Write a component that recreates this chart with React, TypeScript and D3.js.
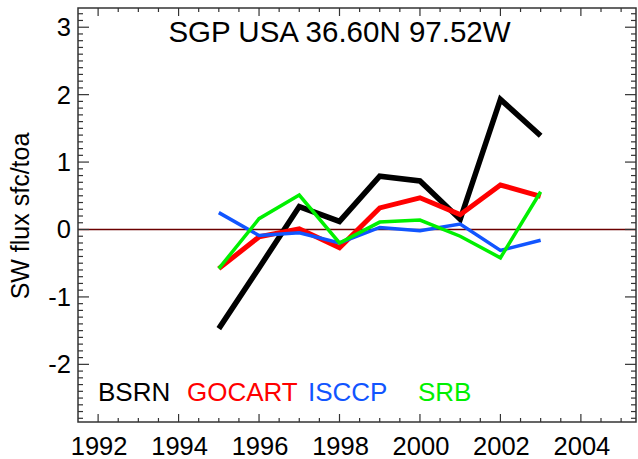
import React from "react";
import * as d3 from "d3";

const years = [1995, 1996, 1997, 1998, 1999, 2000, 2001, 2002, 2003];
const bsrn = [-1.47, -0.57, 0.34, 0.12, 0.79, 0.72, 0.15, 1.93, 1.39];
const gocart = [-0.58, -0.11, 0.01, -0.27, 0.32, 0.47, 0.22, 0.66, 0.49];
const isccp = [0.25, -0.09, -0.05, -0.2, 0.03, -0.02, 0.08, -0.31, -0.16];
const srb = [-0.58, 0.16, 0.51, -0.2, 0.11, 0.14, -0.1, -0.42, 0.56];
const xTickYears = [1992, 1994, 1996, 1998, 2000, 2002, 2004];
const yTickValues = [-2, -1, 0, 1, 2, 3];
const seriesNames = ["BSRN", "GOCART", "ISCCP", "SRB"];
const seriesColors = ["#000000", "#ff0000", "#1155ff", "#00f000"];
const seriesWidths = [5.5, 5, 3.5, 3.5];
const seriesData = [bsrn, gocart, isccp, srb];
const legendX = [98, 187, 308, 418];

const W = 638;
const H = 459;
const left = 78;
const right = 636;
const top = 8;
const bottom = 422;

export default function App() {
  const x = d3.scaleLinear().domain([1991.5, 2005.37]).range([left, right]);
  const y = d3.scaleLinear().domain([-2.855, 3.285]).range([bottom, top]);

  const xMinor = d3.range(1992, 2005.4, 0.5);
  const yMinor = d3.range(-28, 33).map((v) => v / 10);

  const line = d3
    .line<number>()
    .x((_, i) => x(years[i]))
    .y((d) => y(d));

  const axisColor = "#333";
  const font = "'Liberation Sans', Arial, Helvetica, sans-serif";

  return (
    <svg
      width={W}
      height={H}
      style={{ position: "absolute", left: 0, top: 0, background: "#fff" }}
      fontFamily={font}
    >
      <rect x={0} y={0} width={W} height={H} fill="#fff" />
      <line x1={left} x2={right} y1={y(0)} y2={y(0)} stroke="#6b0000" strokeWidth={1.5} />

      {seriesData.map((d, i) => (
        <path
          key={seriesNames[i]}
          d={line(d) || ""}
          fill="none"
          stroke={seriesColors[i]}
          strokeWidth={seriesWidths[i]}
          strokeLinejoin="miter"
          strokeLinecap="butt"
        />
      ))}

      <rect
        x={left}
        y={top}
        width={right - left}
        height={bottom - top}
        fill="none"
        stroke={axisColor}
        strokeWidth={1.5}
      />

      {xMinor.map((v) => {
        const major = Math.abs(v - Math.round(v)) < 1e-6 && Math.round(v) % 2 === 0;
        const len = major ? 8 : 4;
        return (
          <g key={"xt" + v}>
            <line x1={x(v)} x2={x(v)} y1={bottom} y2={bottom - len} stroke={axisColor} strokeWidth={1.2} />
            <line x1={x(v)} x2={x(v)} y1={top} y2={top + len} stroke={axisColor} strokeWidth={1.2} />
          </g>
        );
      })}
      {yMinor.map((v) => {
        const major = Math.abs(v - Math.round(v)) < 1e-6;
        const len = major ? 11 : 5;
        return (
          <g key={"yt" + v}>
            <line x1={left} x2={left + len} y1={y(v)} y2={y(v)} stroke={axisColor} strokeWidth={1.2} />
            <line x1={right} x2={right - len} y1={y(v)} y2={y(v)} stroke={axisColor} strokeWidth={1.2} />
          </g>
        );
      })}

      {xTickYears.map((v) => (
        <text key={"xl" + v} x={x(v) + 1} y={455} textAnchor="middle" fontSize={25.5} fill="#000">
          {v}
        </text>
      ))}
      {yTickValues.map((v) => (
        <text key={"yl" + v} x={71} y={y(v) + 9} textAnchor="end" fontSize={25.5} fill="#000">
          {v}
        </text>
      ))}

      <text x={339.5} y={42} textAnchor="middle" fontSize={29.5} fill="#000">
        SGP USA 36.60N 97.52W
      </text>

      <text
        transform={`translate(29, 216) rotate(-90)`}
        textAnchor="middle"
        fontSize={25}
        fill="#000"
      >
        SW flux sfc/toa
      </text>

      {seriesNames.map((n, i) => (
        <text key={"lg" + n} x={legendX[i]} y={401} fontSize={26} fill={seriesColors[i]}>
          {n}
        </text>
      ))}
    </svg>
  );
}
